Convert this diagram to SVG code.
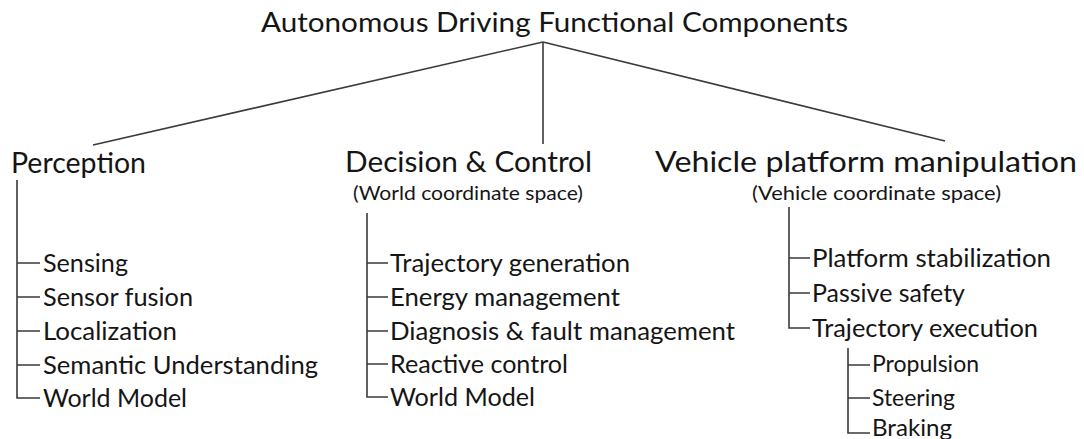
<svg xmlns="http://www.w3.org/2000/svg" width="1084" height="439" viewBox="0 0 1084 439">
<style>
text{font-family:Lato,"Open Sans","Liberation Sans",sans-serif;fill:#151515}
.t{font-size:26px}
.h{font-size:29px}
.s{font-size:19px}
.i{font-size:24.5px}
.j{font-size:23px}
.c line,.c path{stroke:#3a3a3a;stroke-width:1.6;fill:none}
</style>
<rect width="1084" height="439" fill="#fff"/>
<g class="c" id="connectors">
<line x1="543" y1="42" x2="93" y2="145"/>
<line x1="543" y1="42" x2="543" y2="144"/>
<line x1="543" y1="42" x2="945" y2="141"/>
<path d="M17 180V398H40M17 263H40M17 297H40M17 331H40M17 365H40"/>
<path d="M367 213V397H388M367 263H388M367 297H388M367 331H388M367 364H388"/>
<path d="M789 207V328H810M789 258H810M789 293H810"/>
<path d="M848 348V433H870M848 365H870M848 398H870"/>
</g>
<g id="root"><text class="t" x="261" y="32" textLength="587" lengthAdjust="spacingAndGlyphs">Autonomous Driving Functional Components</text></g>
<g id="perception">
<text class="h" x="11" y="173" textLength="135" lengthAdjust="spacingAndGlyphs">Perception</text>
<text class="i" x="43" y="272" textLength="85" lengthAdjust="spacingAndGlyphs">Sensing</text>
<text class="i" x="43" y="306" textLength="150" lengthAdjust="spacingAndGlyphs">Sensor fusion</text>
<text class="i" x="43" y="340" textLength="134" lengthAdjust="spacingAndGlyphs">Localization</text>
<text class="i" x="43" y="374" textLength="275" lengthAdjust="spacingAndGlyphs">Semantic Understanding</text>
<text class="i" x="43" y="407" textLength="144" lengthAdjust="spacingAndGlyphs">World Model</text>
</g>
<g id="decision">
<text class="h" x="345" y="172" textLength="247" lengthAdjust="spacingAndGlyphs">Decision &amp; Control</text>
<text class="s" x="353" y="200" textLength="230" lengthAdjust="spacingAndGlyphs">(World coordinate space)</text>
<text class="i" x="390" y="272" textLength="240" lengthAdjust="spacingAndGlyphs">Trajectory generation</text>
<text class="i" x="390" y="306" textLength="230" lengthAdjust="spacingAndGlyphs">Energy management</text>
<text class="i" x="390" y="340" textLength="345" lengthAdjust="spacingAndGlyphs">Diagnosis &amp; fault management</text>
<text class="i" x="390" y="373" textLength="178" lengthAdjust="spacingAndGlyphs">Reactive control</text>
<text class="i" x="390" y="406" textLength="145" lengthAdjust="spacingAndGlyphs">World Model</text>
</g>
<g id="vehicle">
<text class="h" x="655" y="172" textLength="422" lengthAdjust="spacingAndGlyphs">Vehicle platform manipulation</text>
<text class="s" x="752" y="200" textLength="249" lengthAdjust="spacingAndGlyphs">(Vehicle coordinate space)</text>
<text class="i" x="812" y="267" textLength="239" lengthAdjust="spacingAndGlyphs">Platform stabilization</text>
<text class="i" x="812" y="302" textLength="153" lengthAdjust="spacingAndGlyphs">Passive safety</text>
<text class="i" x="812" y="337" textLength="226" lengthAdjust="spacingAndGlyphs">Trajectory execution</text>
</g>
<g id="execution">
<text class="j" x="872" y="372" textLength="107" lengthAdjust="spacingAndGlyphs">Propulsion</text>
<text class="j" x="872" y="406" textLength="83" lengthAdjust="spacingAndGlyphs">Steering</text>
<text class="j" x="872" y="436" textLength="80" lengthAdjust="spacingAndGlyphs">Braking</text>
</g>
</svg>
